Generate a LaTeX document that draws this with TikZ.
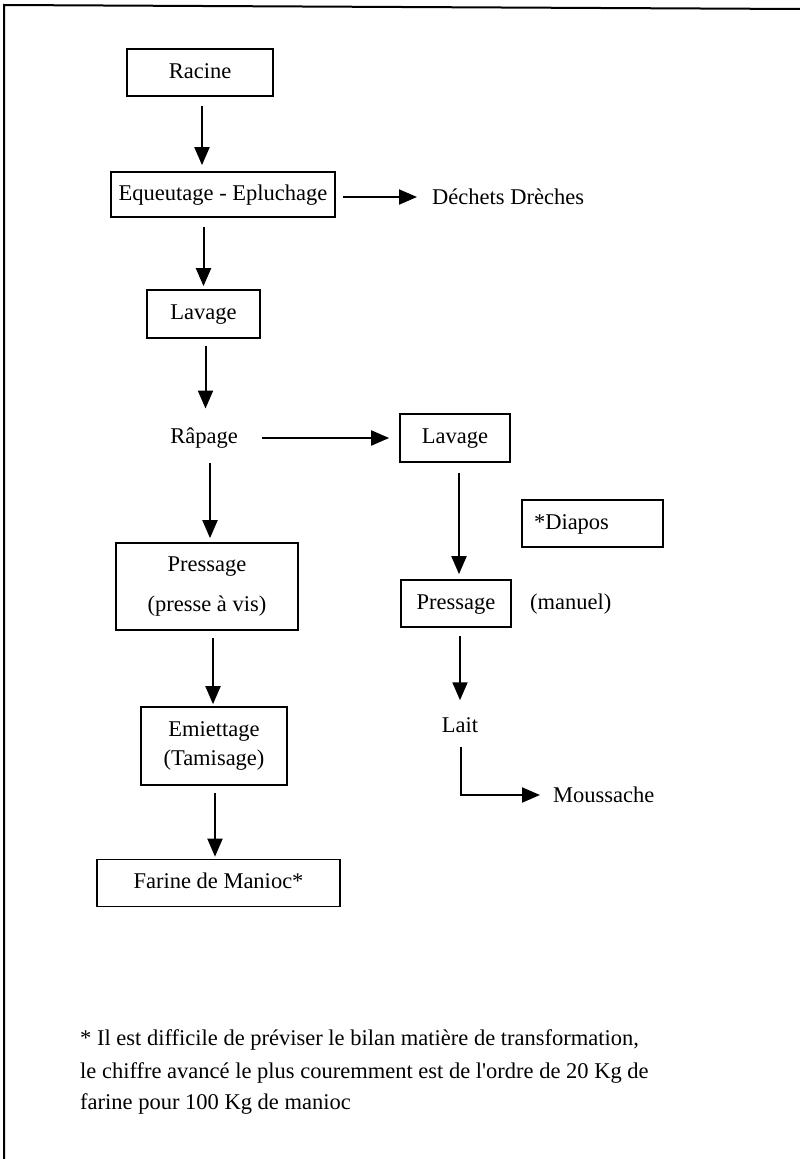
\documentclass[tikz,border=0pt]{standalone}
\usepackage{fontspec}
\setmainfont{Liberation Serif}
\usetikzlibrary{arrows.meta,calc}
\begin{document}
\begin{tikzpicture}[x=1pt,y=-1pt,
  font=\fontsize{22.5}{27}\selectfont,
  box/.style={draw, line width=1.7pt, inner sep=0pt},
  strut/.style={text height=15.5pt, text depth=4.5pt},
  plain/.style={inner sep=0pt},
  arr/.style={line width=2pt, -{Triangle[width=15pt,length=18pt]}},
  frame/.style={line width=2pt}]
\useasboundingbox (0,0) rectangle (800,1159);
% frame (top and left only)
\coordinate (ftl) at (4,5);
\coordinate (ftr) at (800,9);
\coordinate (fbl) at (4,1159);
\draw[frame] (fbl) -- (ftl) -- (ftr);

% nodes
\node[box, strut, minimum width=146pt, minimum height=47pt] (racine) at (200,72.5) {Racine};
\node[box, strut, minimum width=224pt, minimum height=45pt] (eq) at (223,194.5) {Equeutage - Epluchage};
\node[plain, anchor=west] (dech) at (432,197) {Déchets Drèches};
\node[box, strut, minimum width=113pt, minimum height=48pt] (lav) at (203.5,314) {Lavage};
\node[plain] (rap) at (204,438) {Râpage};
\node[box, strut, minimum width=110pt, minimum height=48pt] (lav2) at (455,438) {Lavage};
\node[box, strut, text width=117pt, align=left, inner xsep=12pt, inner ysep=0pt, minimum height=47pt] (diapos) at (592.5,523.5) {*Diapos};
\node[box, strut, minimum width=110pt, minimum height=47pt] (pres2) at (456,603.5) {Pressage};
\node[plain, anchor=west] (manuel) at (530,604) {(manuel)};
\node[plain] (lait) at (460,725) {Lait};
\node[plain, anchor=west] (mous) at (553,795) {Moussache};
\node[box, minimum width=182pt, minimum height=87pt, align=center,
      font=\fontsize{22.5}{40}\selectfont] (pres1) at (207,586.5) {Pressage\\(presse à vis)};
\node[box, minimum width=146pt, minimum height=78pt, align=center,
      font=\fontsize{22.5}{29}\selectfont] (emi) at (214,746) {Emiettage\\(Tamisage)};
\node[box, strut, minimum width=243pt, minimum height=47pt] (farine) at (218.5,883) {Farine de Manioc*};

\node[plain, anchor=base west] (fn1) at (80,1045) {* Il est difficile de préviser le bilan matière de transformation,};
\node[plain, anchor=base west] (fn2) at (80,1078) {le chiffre avancé le plus couremment est de l\textquotesingle ordre de 20 Kg de};
\node[plain, anchor=base west] (fn3) at (80,1109) {farine pour 100 Kg de manioc};

% connectors
\draw[arr, shorten <=9pt, shorten >=6pt] ([xshift=2pt]racine.south) -- ([xshift=2pt]racine.south |- eq.north);
\draw[arr, shorten <=7pt, shorten >=15pt] (eq.east |- dech.west) -- (dech.west);
\draw[arr, shorten <=9pt, shorten >=3pt] (eq.south -| lav.north) -- (lav.north);
\draw[arr, shorten <=7pt, shorten >=19pt] ([xshift=2pt]lav.south) -- ([xshift=2pt]lav.south |- rap.north);
\draw[arr, shorten <=24pt, shorten >=10pt] (rap.east) -- (rap.east -| lav2.west);
\draw[arr, shorten <=15pt, shorten >=4pt] ([xshift=6pt]rap.south) -- ([xshift=6pt]rap.south |- pres1.north);
\draw[arr, shorten <=10pt, shorten >=5pt] ([xshift=4pt]lav2.south) -- ([xshift=4pt]lav2.south |- pres2.north);
\draw[arr, shorten <=8pt, shorten >=17pt] ([xshift=4pt]pres2.south) -- ([xshift=4pt]pres2.south |- lait.north);
\draw[arr, shorten <=7pt, shorten >=2pt] ([xshift=6pt]pres1.south) -- ([xshift=6pt]pres1.south |- emi.north);
\draw[arr, shorten <=7pt, shorten >=2pt] ([xshift=1pt]emi.south) -- ([xshift=1pt]emi.south |- farine.north);
\draw[arr, shorten <=14pt, shorten >=13pt] ([xshift=1pt]lait.south) -- ([xshift=1pt]lait.south |- mous.west) -- (mous.west);
\end{tikzpicture}
\end{document}
